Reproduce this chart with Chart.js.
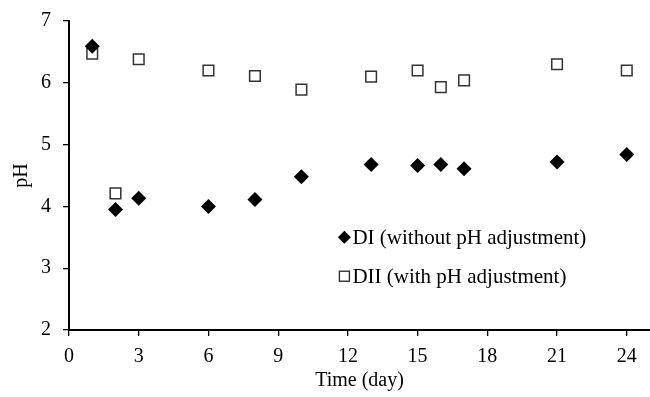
<!DOCTYPE html>
<html>
<head>
<meta charset="utf-8">
<script src="https://cdn.jsdelivr.net/npm/chart.js@4"></script>
<style>
  html, body { margin: 0; padding: 0; background: #fff; }
  #wrap { width: 650px; height: 397px; }
</style>
</head>
<body>
<div id="wrap"><canvas id="phChart"></canvas></div>
<script>
// data
var days = [1, 2, 3, 6, 8, 10, 13, 15, 16, 17, 21, 24];
var diValues = [6.59, 3.95, 4.13, 4.00, 4.11, 4.48, 4.68, 4.66, 4.68, 4.61, 4.72, 4.84];
var diiValues = [6.47, 4.21, 6.38, 6.20, 6.11, 5.89, 6.10, 6.20, 5.93, 6.04, 6.30, 6.20];
var seriesLabels = ['DI (without pH adjustment)', 'DII (with pH adjustment)'];
var xTicks = [0, 3, 6, 9, 12, 15, 18, 21, 24];
var yTicks = [2, 3, 4, 5, 6, 7];

var serif = 'Liberation Serif, Times New Roman, serif';

function toPoints(xs, ys) {
    return xs.map(function (x, i) { return { x: x, y: ys[i] }; });
}

// small legend drawn inside the plot area
var insideLegend = {
    id: 'insideLegend',
    afterDraw: function (chart) {
        var ctx = chart.ctx;
        var area = chart.chartArea;
        var mx = area.left + (area.right - area.left) * 0.474;
        var tx = mx + 8;
        var rows = [0.70, 0.826];
        ctx.save();
        ctx.font = '21px ' + serif;
        ctx.textBaseline = 'middle';
        ctx.fillStyle = '#000';
        rows.forEach(function (r, i) {
            var y = area.top + (area.bottom - area.top) * r;
            if (i === 0) {
                ctx.beginPath();
                ctx.moveTo(mx - 6.5, y);
                ctx.lineTo(mx, y - 6.5);
                ctx.lineTo(mx + 6.5, y);
                ctx.lineTo(mx, y + 6.5);
                ctx.closePath();
                ctx.fill();
            } else {
                ctx.fillStyle = '#fff';
                ctx.fillRect(mx - 5, y - 5, 10, 10);
                ctx.strokeStyle = '#333';
                ctx.lineWidth = 1.4;
                ctx.strokeRect(mx - 5, y - 5, 10, 10);
                ctx.fillStyle = '#000';
            }
            ctx.fillText(seriesLabels[i], tx, y + 1);
        });
        ctx.restore();
    }
};

var phChart = new Chart(document.getElementById('phChart').getContext('2d'), {
    type: 'scatter',
    data: {
        datasets: [{
            label: seriesLabels[0],
            data: toPoints(days, diValues),
            pointStyle: 'rectRot',
            pointRadius: 7.5,
            pointHoverRadius: 7.5,
            backgroundColor: '#000',
            borderColor: '#000',
            borderWidth: 0,
        }, {
            label: seriesLabels[1],
            data: toPoints(days, diiValues),
            pointStyle: 'rect',
            pointRadius: 7.5,
            pointHoverRadius: 7.5,
            backgroundColor: '#fff',
            borderColor: '#333',
            borderWidth: 1.5,
        }],
    },
    options: {
        responsive: true,
        maintainAspectRatio: false,
        animation: false,
        events: [],
        layout: {
            autoPadding: false,
            padding: { left: 0, right: 0, top: 21, bottom: 0 },
        },
        plugins: {
            legend: { display: false },
            tooltip: { enabled: false },
        },
        scales: {
            x: {
                type: 'linear',
                min: 0,
                max: 25,
                afterBuildTicks: function (axis) {
                    axis.ticks = xTicks.map(function (v) { return { value: v }; });
                },
                afterFit: function (axis) {
                    axis.height = 67;
                    axis.paddingLeft = 0;
                    axis.paddingRight = 0;
                },
                grid: {
                    drawOnChartArea: false,
                    drawTicks: true,
                    tickLength: 6,
                    color: '#000',
                    lineWidth: 1.3,
                },
                border: { display: true, color: '#000', width: 2 },
                ticks: {
                    color: '#000',
                    padding: 9,
                    maxRotation: 0,
                    font: { family: serif, size: 20 },
                },
                title: {
                    display: true,
                    text: 'Time (day)',
                    color: '#000',
                    padding: { top: 6 },
                    font: { family: serif, size: 20 },
                },
            },
            y: {
                min: 2,
                max: 7,
                afterBuildTicks: function (axis) {
                    axis.ticks = yTicks.map(function (v) { return { value: v }; });
                },
                afterFit: function (axis) {
                    axis.width = 69;
                    axis.paddingTop = 0;
                    axis.paddingBottom = 0;
                },
                grid: {
                    drawOnChartArea: false,
                    drawTicks: true,
                    tickLength: 6,
                    color: '#000',
                    lineWidth: 1.3,
                },
                border: { display: true, color: '#000', width: 2 },
                ticks: {
                    color: '#000',
                    padding: 12,
                    font: { family: serif, size: 20 },
                },
                title: {
                    display: true,
                    text: 'pH',
                    color: '#000',
                    padding: { top: 10, bottom: 0 },
                    font: { family: serif, size: 20 },
                },
            },
        },
    },
    plugins: [insideLegend],
});
</script>
</body>
</html>
